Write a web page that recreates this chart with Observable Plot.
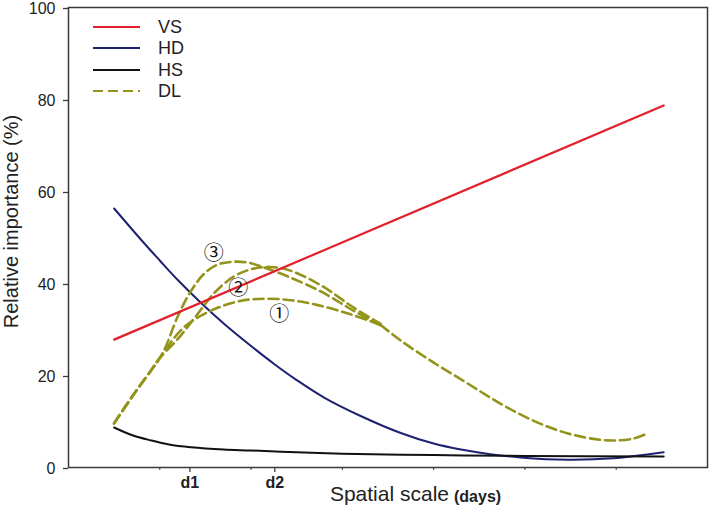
<!DOCTYPE html>
<html><head><meta charset="utf-8">
<script src="https://cdn.jsdelivr.net/npm/d3@7"></script>
<script src="https://cdn.jsdelivr.net/npm/@observablehq/plot@0.6"></script>
<style>
body{margin:0;background:#fff;font-family:"Liberation Sans",Arial,sans-serif;}
#wrap{position:relative;width:709px;height:514px;}
#legend{position:absolute;left:0;top:0;}
</style></head><body><div id="wrap"></div>
<script>
// ---- data ----
const seriesNames = ["VS", "HD", "HS", "DL"];
const seriesColors = ["#e3202b", "#1e2170", "#111111", "#94941c"];

const vsX = [0.5, 6.52];
const vsY = [27.8, 78.7];

const hdX = [0.5, 0.8, 1.0, 1.2, 1.45, 1.7, 2.0, 2.26, 2.5, 2.8, 3.2, 3.64, 4.0, 4.3, 4.62, 4.95, 5.47, 5.97, 6.2, 6.52];
const hdY = [56.3, 49.4, 45.0, 40.7, 35.8, 31.3, 26.4, 22.4, 19.0, 15.2, 11.2, 7.5, 5.2, 3.9, 2.9, 2.2, 1.7, 2.0, 2.5, 3.3];

const hsX = [0.5, 0.7, 0.9, 1.1, 1.34, 1.7, 2.0, 2.5, 3.0, 4.0, 5.0, 6.52];
const hsY = [8.7, 7.0, 5.9, 5.0, 4.4, 3.9, 3.7, 3.3, 3.0, 2.7, 2.5, 2.4];

// DL: shared rise, three branches (①, ②, ③), shared decline
const dlHeadX = [0.5, 0.7, 0.9];
const dlHeadY = [9.6, 15.5, 21.0];
const dl1X = [1.0, 1.26, 1.56, 1.88, 2.18, 2.46, 2.73, 3.09, 3.42];
const dl1Y = [23.8, 30.4, 34.1, 36.2, 36.7, 36.3, 35.3, 33.3, 31.0];
const dl2X = [1.0, 1.2, 1.4, 1.6, 1.81, 2.0, 2.2, 2.43, 2.79, 3.12, 3.42];
const dl2Y = [23.8, 28.0, 33.0, 38.0, 41.5, 43.1, 43.6, 42.8, 39.3, 34.8, 31.2];
const dl3X = [1.0, 1.06, 1.2, 1.34, 1.48, 1.62, 1.78, 1.95, 2.14, 2.43, 2.79, 3.12, 3.42];
const dl3Y = [23.8, 26.0, 33.0, 38.3, 42.0, 44.0, 44.7, 44.6, 43.5, 41.3, 38.0, 34.1, 30.9];
const dlTailX = [3.42, 3.64, 4.0, 4.37, 4.73, 5.09, 5.47, 5.9, 6.19, 6.34];
const dlTailY = [31.0, 27.6, 22.8, 18.3, 13.9, 10.2, 7.4, 5.9, 6.3, 7.4];

const curveLabels = ["①", "②", "③"];
const curveLabelX = [2.31, 1.86, 1.59];
const curveLabelY = [33.3, 38.9, 46.5];

const yTicks = [0, 20, 40, 60, 80, 100];
const xTickValues = [1.33, 2.26];
const xTickLabels = ["d1", "d2"];
const xMinorTicks = [1, 2, 3, 4, 5, 6];

// ---- build tables ----
const zip = (xs, ys, extra) => xs.map((x, i) => ({x, y: ys[i], ...extra}));
const vs = zip(vsX, vsY, {});
const hd = zip(hdX, hdY, {});
const hs = zip(hsX, hsY, {});
const head = zip(dlHeadX, dlHeadY, {});
const dl = [
  ...head.map(d => ({...d, g: "b1"})), ...zip(dl1X, dl1Y, {g: "b1"}),
  ...head.map(d => ({...d, g: "b2"})), ...zip(dl2X, dl2Y, {g: "b2"}),
  ...head.map(d => ({...d, g: "b3"})), ...zip(dl3X, dl3Y, {g: "b3"}),
  ...zip(dlTailX, dlTailY, {g: "tail"})
];
const ann = curveLabels.map((t, i) => ({t, x: curveLabelX[i], y: curveLabelY[i]}));

const axisColor = "#3a3a3a";
const chart = Plot.plot({
  width: 709,
  height: 514,
  marginTop: 7,
  marginBottom: 47,
  marginLeft: 68,
  marginRight: 2,
  style: {fontFamily: '"Liberation Sans", Arial, sans-serif', background: "#fff", color: "#222", overflow: "visible"},
  x: {domain: [0, 7]},
  y: {domain: [0, 100]},
  marks: [
    Plot.frame({stroke: axisColor, strokeWidth: 1.5}),
    Plot.axisY({ticks: yTicks, tickSize: 5, tickPadding: 8, fontSize: 16, label: null, stroke: axisColor, strokeWidth: 1.3, dy: 1}),
    Plot.axisX({ticks: xTickValues, tickSize: 5, tickPadding: 4, fontSize: 16, fontWeight: "bold",
      tickFormat: d => xTickLabels[xTickValues.indexOf(d)], label: null, stroke: axisColor, strokeWidth: 1.3}),
    Plot.axisX({ticks: xMinorTicks, tickSize: 3, tickFormat: () => "", label: null, stroke: axisColor}),
    Plot.line(hd, {x: "x", y: "y", stroke: seriesColors[1], strokeWidth: 2, curve: "catmull-rom"}),
    Plot.line(hs, {x: "x", y: "y", stroke: seriesColors[2], strokeWidth: 2, curve: "catmull-rom"}),
    Plot.line(dl, {x: "x", y: "y", z: "g", stroke: seriesColors[3], strokeWidth: 2.6, strokeDasharray: "10,5", curve: "catmull-rom"}),
    Plot.line(vs, {x: "x", y: "y", stroke: seriesColors[0], strokeWidth: 2.2}),
    Plot.text(ann, {x: "x", y: "y", text: "t", fontSize: 20, fill: "#111", fontFamily: '"Noto Sans CJK SC", "DejaVu Sans", serif'}),
    Plot.text(["Relative importance (%)"], {frameAnchor: "left", textAnchor: "middle", rotate: -90, dx: -57, dy: -16, fontSize: 20, fill: "#222"}),
    Plot.text(["Spatial scale"], {frameAnchor: "bottom", dx: 61, dy: 33, textAnchor: "end", fontSize: 21, fill: "#222"}),
    Plot.text(["(days)"], {frameAnchor: "bottom", dx: 66, dy: 34, textAnchor: "start", fontSize: 16, fontWeight: "bold", fill: "#222"})
  ]
});

const wrap = document.getElementById("wrap");
wrap.appendChild(chart);

// legend overlay (inside plot, top-left)
const leg = d3.select(wrap).append("svg").attr("id", "legend").attr("width", 220).attr("height", 110);
const rowY = [27, 48, 70, 91];
seriesNames.forEach((name, i) => {
  leg.append("line").attr("x1", 93).attr("x2", 140).attr("y1", rowY[i]).attr("y2", rowY[i])
    .attr("stroke", seriesColors[i]).attr("stroke-width", 2.2)
    .attr("stroke-dasharray", name === "DL" ? "10,5" : null);
  leg.append("text").attr("x", 158).attr("y", rowY[i]).attr("dy", "0.35em")
    .attr("font-size", 18).attr("fill", "#222")
    .attr("font-family", '"Liberation Sans", Arial, sans-serif').text(name);
});
</script></body></html>
